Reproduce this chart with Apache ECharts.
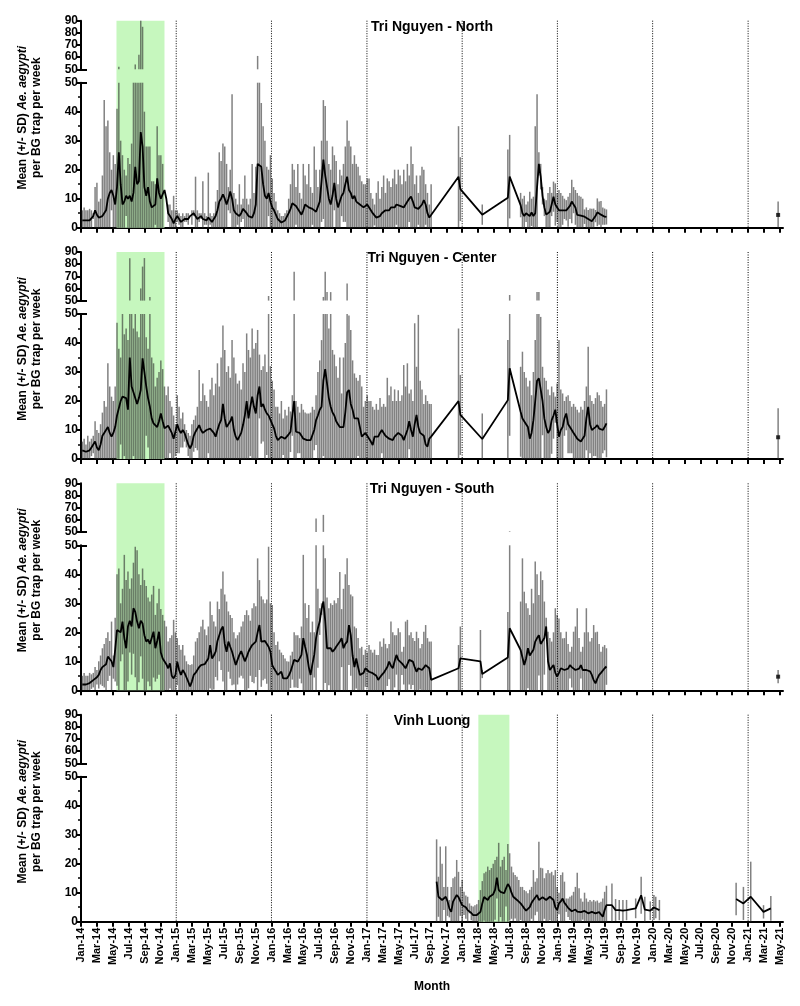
<!DOCTYPE html>
<html><head><meta charset="utf-8">
<script src="https://cdn.jsdelivr.net/npm/echarts@6/dist/echarts.min.js"></script>
<style>html,body{margin:0;padding:0;background:#fff}#c{width:800px;height:1006px}</style>
</head><body><div id="c"></div>
<script>
// ---------------- DATA ----------------
const TICK_LABELS = ['Jan-14','Mar-14','May-14','Jul-14','Sep-14','Nov-14','Jan-15','Mar-15','May-15','Jul-15','Sep-15','Nov-15','Jan-16','Mar-16','May-16','Jul-16','Sep-16','Nov-16','Jan-17','Mar-17','May-17','Jul-17','Sep-17','Nov-17','Jan-18','Mar-18','May-18','Jul-18','Sep-18','Nov-18','Jan-19','Mar-19','May-19','Jul-19','Sep-19','Nov-19','Jan-20','Mar-20','May-20','Jul-20','Sep-20','Nov-20','Jan-21','Mar-21','May-21'];
const YEAR_STARTS = ['2015-01-01','2016-01-01','2017-01-01','2018-01-01','2019-01-01','2020-01-01','2021-01-01'];
const FIRST_WEEK = '2014-01-06';
const GREEN_TRI = ['2014-05-17','2014-11-17'];
const GREEN_VINH = ['2018-03-04','2018-07-01'];
const TITLES = ['Tri Nguyen - North','Tri Nguyen - Center','Tri Nguyen - South','Vinh Luong'];

// runs: [first week index (weeks after FIRST_WEEK), number of consecutive weekly samples]
const northRuns = [[0,192],[206,2],[219,1],[233,2],[240,48],[381,1]];
const northMean = [
2.5,2.5,2.5,2.5,2.5,3,4,6,4.5,3.5, 3.5,4,4.5,6,10,12,13,11,8,14, 26,15,8,9,11,10,11,9,12,21,
15,16,33,28,14,11,14,9,7,6.5, 8,17,12,10,10,13,10,5,4,3, 1.5,3,4,3,2,2.5,3,3.5,3,4,
3.5,5,4.5,3,3.5,4,3,3,2.5,3.5, 3,2,2,4,6,9,10,11.5,10,8, 10,12.5,10,6,5,4.5,4,5,6.5,7,
5,4,3.5,3.5,5,8,22,22,21,15, 11,10,12,9,7,6,4.5,3,2.5,1.8, 1.7,2.5,3,5,6.5,8.4,8,7.5,7,5.5,
4.5,6,8,7.5,7,6.5,6.5,6,5.5,5.5, 9,16,23.5,18,14,10,8,11,15.5,10, 7,9,11,12,15,17.6,13,12,10,11,
9,8.5,8,7.5,7,7,8,7.8,6,5, 4.4,3.5,3,4,5,5,6,5.5,6,7, 7.5,7,8,8,7.5,7,7,8,9,10,
10.7,9,7,6.5,6.5,7,8,9.5,8,5,3.5,3,
17.6,13.3, 4.5, 10.3,17.6,
7.8,5,4,5,4.5,4,5.3,4,5,14, 22,17.6,11,7,4.5,4.2,5.5,8,10.7,8, 7,6,5.5,6,6.5,6,5.5,7.5,9,9.5,
7,4.4,4.5,4.2,4,3.8,3.3,3,2.5,2.2, 2,4,5.3,5,4.5,4,3.8,3.7,
4.4];
const northHi = [
6,7,6,6,6.5,6,5,14,15.5,9, 10,18,44,35,37,26,20,25,22,41, 52,30,25,20,18,24,22,29,50,54,
50,62,90,85,40,28,28,28,16,16, 15,35,25,25,22,13,10,8,8,6, 11,6,6,5,4,5,4,5,5,4,
6,6,17.6,6,5,5,16,5,4,19, 5,4,5,9,13,26,23,29,28,22, 14,20,46,12,10,8,15,8,10,18,
10,8,10,22,12,21,61,50,43,35, 30,21,20,25,17,12,9,6,5,4, 4,5,6,10,15,22,20,14,22,12,
10,22,18,15,22,14,12,28,20,14, 20,30,44,42,30,22,20,28,25,23, 15,20,18,22,28,37,30,28,22,25,
22,21,18,16,15,15,17,17,12,10, 8,12,16,10,14,18,12,17,16,14, 17,20,15,20,18,15,20,16,22,18,
28,22,15,18,12,18,21,20,15,12,8,15,
35,24.3, 8, 27,32,
12,10,11,8,9,12.4,10,10.7,35,46, 26,22,14,10,9.5,12,14,12,15.9,15.3, 12,13,12,11,10,9.5,10.7,12,16.5,14,
13,12,11,10.7,10,6.3,7,6.1,6.6,6.5, 6.6,6.1,10.1,9,9.2,7,6.6,6.3,
9];

const centerRuns = [[0,192],[206,2],[219,1],[233,2],[240,48],[381,1]];
const centerMean = [
3,3,2.5,2.5,3,4,5,6,4,3, 5,8,9,9,11,9,7.7,9,11,15, 17.5,20,21.5,22,21,17,35,25,23,22.6,
19,21,23.8,34.7,30,25,21,18,14,12.3, 12,11,13,15.7,13,10.6,11,11.5,11,9, 7,6.5,12,10,9,10,9,7,5,3.7,
5,8,9.4,10.5,11.7,10,9,9.5,10,10, 10.5,11,9,7.7,10,12,13.4,19,14,11, 12,13,14.6,10,7.7,6.5,6,9,11.7,15,
20,14,18,21.5,18,15.7,22,25,18,19, 17,15.7,15,14.6,12,10.6,8,6.5,7,7.7, 7.7,7,7.5,8.5,9.4,15,20,9.4,10,9,
8,7,7,6.5,6.5,6.5,6.5,10,13.4,15, 17,18,27,31,26,21,18,16,15,13, 12,11,11,11,16,23,23.8,19,17,14,
13.4,14,11,7.7,8,9,8,7.7,6,4.8, 7.7,7.7,7.7,9,10,9,8,7.7,7,6.5, 6.5,7.7,8,9,9.4,8,6.5,6.5,10,13,
10,7.7,12,15.2,11,9,8.5,8,5,4.3,7,7.7,
20,15.2, 6.9, 20.3,31.3,
16.3,14,13.4,12,11,7,9,13.4,20,27, 27.8,24,20,14,11,9,10,13.4,15,17, 12,7.7,10,11,14,15.7,12,11,10,9,
8,7,6.5,6,5.4,8,14,18,12,10, 10,11,11.7,10.5,10,10,11,12.3,
7.5];
const centerHi = [
6,7,5,8,6,7,8,13,10,9, 12,16,20,18,33,25,21.5,20,25,47, 38,35,50,43,45,41,84.8,50,45,50,
44,42,60,78,85,42,38,53,35,33, 25,28,30,34,31,25,22,25,20,18, 15,12,22,18,14,16,12,10,9,8,
12,13.5,15,18,30.7,20,26,22,20,18, 24,28,22,26,33,25,35,46,37.6,30, 32,28,41,35,29.5,26,27,24,33,30,
43.3,37.6,35,45,38,40,44.5,36,30.7,32, 36,30,53.8,32,27,24,18,18,15.7,20, 14,17,15,18,16.4,22,73.8,20,18,16,
19,17,16,15.7,15.7,16,18,17,22,30, 34,41,53,73.8,57,45,57,37.6,36,32, 28,35,22.6,35,40,64,49.5,44.5,34,29.5,
28,27,29,25,18,20,22,20,20,18, 17,19,17,21,18,19,18,28,22,25, 20,24,20,23.7,20,22,32.4,25,33,22.6,
24,20,46.8,31.8,49.7,27,24,19,22,20,19,19,
45,29, 15.7, 41,54.6,
31.8,37,30,28,25,27,22,30,41,57, 57,49,31.8,28,27,24,22,25,23,21.5, 26,41,24,22.6,20,21.5,22,20,18,19,
18,17,16,18,17,20,25,38.7,22,20, 19,21,23,22,20,18,19,24,
17.5];

const southRuns = [[0,192],[206,2],[218,2],[233,2],[240,48],[381,1]];
const southMean = [
2,2,2,2.5,2.5,3,3.5,4,4.5,5.3, 7,8,8.5,9,11.6,11,10,8,14,20.8, 20.5,20,23.7,18,14.5,22,24,22,28.3,27,
23.7,21.4,24,23,19,16.8,17.5,16,15.6,20.2, 14.5,17,20.2,13,11,11.6,9,7.6,9.3,5, 4.1,5.3,9.9,7,5.3,7,6,4.5,3,1.3,
3,5.3,6,7,8,8.7,8.7,9,8.7,11, 15.6,11,12,13.3,17,19,21,22,16,13.3, 16.8,15,13.3,11,8.7,10.5,12.2,13.5,13.9,10,
11.5,13.3,14.5,15.6,16.2,16.8,20,22.5,16.8,17.4, 17,16.8,15,13.3,8.7,7.5,6.5,5.3,5.8,6.4, 4.1,4,4.1,5,6.4,8.5,10.5,10,9.9,11,
12.2,18,15,12.2,8,5.3,9,12.2,18,21.4, 23.7,28,30.6,24,14.5,15,14.5,13.3,14,15, 15.6,16.8,18,14.5,16,16.8,22.5,19,12,8,
11,8,5.3,5.3,6,7.6,7,6.4,6,5.9, 6.2,5,3.6,4.5,5.3,6,6.4,8,9.9,8.5, 7.6,10,12.2,10.5,9.9,9.3,8.5,7.6,9,10.5,
10.2,9.9,8,6.4,7.6,7.4,7,7.8,8.7,8.2,7.6,3.6,
7.6,11, 10,5.6, 11.3,21.4,
13.9,13.3,8.7,11,14.5,12,12.2,14,16.8,18, 19,16,15.6,18,22,10,7,6.4,8.7,6, 4.7,6,7.6,7.6,7,6.4,7.5,8.7,8,7.6,
7,6.4,7.5,8.7,7,6.4,7,7.6,6.5,5.3, 3.5,2.4,4,5.3,6,6.4,7.6,8.2,
4.7];
const southHi = [
5,6,5,5,6,5.5,6,8,7,10, 12,14.5,16,18,20,17,23.7,12,25,40, 42,30,35,46.7,38,41,35,38.6,44,49.5,
48.3,40,36.3,42,38,36,32,30.6,33,36, 26,30,35,28,26,24,22,16.8,18,19, 24.3,20,18,15.6,14,15.6,12,10,9,8.7,
9,12,16.8,18,20,22,24.3,21,19,22, 30.6,26,23.7,22,30.6,28,35,41,33,30.6, 27.2,26,24.9,20,17.9,19,20,22,23.7,26,
27.6,25.9,24,28.3,30,29,45.5,38,32.4,31.3, 30,31.3,49.5,30,29.4,20,15.6,16.8,14,13, 12.2,11,10,9.9,12,13.3,20,19,19,18,
22,46.7,30,24.9,29.4,20,23.7,20,61,35, 28.3,30,64,45.5,32,28.3,30,29.4,31,30, 31.8,40.8,28,35,40,45.5,36.3,33,32.4,22,
21.4,18,14.5,15,12.2,14,13,15.6,14,13, 14,12.2,12.2,16.8,15,17.9,16,14.5,16,23.7, 20,19,19,21.4,20,13.3,15,23.7,24.3,19,
20,18,17,20.2,18,14.5,16,20.2,22.5,18,16.8,16.8,
15.6,22, 20.8,7, 27,50.5,
30.6,45.5,34,30,28.3,26,35,30,44.4,40, 32.9,41,38,30.6,25,20.2,18,16.8,20,28.3, 26,24.8,20,17.9,18,20.2,16,13.3,15,20.2,
22,28.3,18,13.3,15,20,28.3,20,16.8,18, 22.5,20,20.2,16,13.3,15,15.6,14.5,
7];

const vinhRuns = [[194,94],[290,1],[292,1],[294,1],[296,1],[298,1],[303,1],[306,1],[308,1],[311,1],[313,1],[314,1],[316,1],[358,1],[362,1],[366,1],[373,1],[377,1]];
const vinhMean = [
13.8,8.6,8,7.5,8,8.6,7,4.5,3.4,6.9, 7.5,9.2,8.5,7,5.7,6.3,5,4,4.6,3, 2.3,2,2.3,2.5,3.4,6.3,8.5,8,7.5,8.6,
9,9.5,11,15.2,11,10.3,10,9.8,11.5,13, 12,10,8.6,8.6,7.5,6.9,6.3,5.5,4.6,3.8, 3.4,5,6.5,7.5,8,9.2,7.5,6.9,8.4,8,
7.5,8,8.6,8,7.5,5,4,6.3,7,8, 6.5,5.7,4.8,4.6,3.6,3.4,4.2,3.5,2.9,3.3, 3.8,3.7,3.6,2.9,3.2,3.4,3.2,2.9,3.1,3.3,
2.5,1.7,4,5.7,
5.7,4,4,3.8,4,4.6,9.1,4.2,3.8,4.9,4.9,4,
7.8,6.3,8.6,3.4,4.6];
const vinhHi = [
28.4,15.5,25.9,20,12,26,12,7.5,12,15, 15.5,21.3,17.2,12,14.4,10.3,9,8.6,6.3,5.5, 5.2,5.7,6,7.5,10.9,14,16.7,17.2,19,17.8,
18.5,20,21.3,22.4,27.2,19,21.3,22.4,17.8,26.8, 23.6,19,17,16.1,15.5,14.4,12,12,10.9,10.5, 9.8,11,12,17.8,13.8,15,27.6,18.6,18.4,15,
16.7,17.8,16.7,17.2,16,17.8,12,10,16.1,17, 13.8,8,8,8.6,9,10.3,12,16.9,11.5,8, 6.9,10,8,6.9,7.5,7,7.5,7,7.3,6.5,
6.9,8,10.3,12.4,
13.2,7.8,7.5,7.5,7.5,8,15.5,8.6,7,9.2,8.6,7.5,
13.4,12,20.7,5.7,8.9];

// weeks before which the mean line is interrupted
const northBreaks = [381], centerBreaks = [381], southBreaks = [381], vinhBreaks = [358];

// ---------------- LAYOUT / STYLE ----------------
const FONT = '"Liberation Sans", Arial, Helvetica, sans-serif';
const ZERO_Y = [227.7, 459, 690.3, 921.7];
const LEFT = 81, WIDTH = 702, X_MAX = 88.4;
const LOWER_H = 145, UPPER_H = 48.6, FULL_H = 207, NAME_H = 220;
const GREEN = '#c6f7be';
const BAR_COLOR = 'rgba(45,45,45,0.6)';
const DAYS_PER_MONTH = 30.4375;

function dm(s) { const [y, m, d] = s.split('-').map(Number); return (Date.UTC(y, m - 1, d) - Date.UTC(2014, 0, 1)) / 86400000 / DAYS_PER_MONTH; }
const W0 = dm(FIRST_WEEK);
function wk(w) { return W0 + 7 * w / DAYS_PER_MONTH; }
const TICKS = TICK_LABELS.map((_, i) => i * 2);

const PANELS = [
  {runs: northRuns, mean: northMean, hi: northHi, breaks: northBreaks, green: GREEN_TRI},
  {runs: centerRuns, mean: centerMean, hi: centerHi, breaks: centerBreaks, green: GREEN_TRI},
  {runs: southRuns, mean: southMean, hi: southHi, breaks: southBreaks, green: GREEN_TRI},
  {runs: vinhRuns, mean: vinhMean, hi: vinhHi, breaks: vinhBreaks, green: GREEN_VINH}
];

function expand(P) {
  const pts = []; let k = 0;
  P.runs.forEach(([s, n]) => { for (let j = 0; j < n; j++) { pts.push({w: s + j, mean: P.mean[k], hi: P.hi[k]}); k++; } });
  return pts;
}

function barItem(params, api) {
  const a = api.coord([api.value(0), api.value(1)]);
  const b = api.coord([api.value(0), api.value(2)]);
  return {type: 'line', shape: {x1: a[0], y1: a[1], x2: b[0], y2: b[1]}, style: {stroke: BAR_COLOR, lineWidth: 1.5}};
}

const grids = [], xAxes = [], yAxes = [], series = [], graphics = [];
const axisLineStyle = {color: '#000', width: 2};
const yLabel = {color: '#000', fontSize: 12, fontWeight: 'bold', fontFamily: FONT, margin: 3};

PANELS.forEach((P, p) => {
  const Z = ZERO_Y[p];
  const g = p * 4, xb = p * 4, yb = p * 6;
  grids.push({left: LEFT, width: WIDTH, top: Z - LOWER_H, height: LOWER_H});
  grids.push({left: LEFT, width: WIDTH, top: Z - FULL_H, height: UPPER_H});
  grids.push({left: LEFT, width: WIDTH, top: Z - FULL_H, height: FULL_H});
  grids.push({left: LEFT, width: WIDTH, top: Z - NAME_H, height: NAME_H});

  const xBase = {type: 'value', min: 0, max: X_MAX, splitLine: {show: false}};
  xAxes.push(Object.assign({}, xBase, {
    gridIndex: g, position: 'bottom',
    axisLine: {show: true, onZero: false, lineStyle: axisLineStyle},
    axisTick: {show: true, length: 5, lineStyle: {color: '#000', width: 2}, customValues: TICKS},
    axisLabel: {show: p === 3, customValues: TICKS, rotate: 90, color: '#000', fontSize: 11, fontWeight: 'bold', fontFamily: FONT, margin: 6,
      formatter: v => TICK_LABELS[Math.round(v / 2)] || ''},
    name: p === 3 ? 'Month' : '', nameLocation: 'middle', nameGap: 59,
    nameTextStyle: {color: '#000', fontSize: 12, fontWeight: 'bold', fontFamily: FONT}
  }));
  xAxes.push(Object.assign({}, xBase, {gridIndex: g + 1, show: false}));
  xAxes.push(Object.assign({}, xBase, {gridIndex: g + 2, show: false}));
  xAxes.push(Object.assign({}, xBase, {gridIndex: g + 3, show: false}));

  yAxes.push({type: 'value', gridIndex: g, position: 'left', min: 0, max: 50, interval: 10,
    axisLine: {show: true, onZero: false, lineStyle: axisLineStyle},
    axisTick: {show: true, length: 5, lineStyle: {color: '#000', width: 2}},
    minorTick: {show: true, splitNumber: 2, length: 3, lineStyle: {color: '#000', width: 1.5}},
    axisLabel: yLabel, splitLine: {show: false}});
  yAxes.push({type: 'value', gridIndex: g, position: 'left', min: 0, max: 50,
    axisLine: {show: false}, axisTick: {show: true, inside: true, length: 6, customValues: [50], lineStyle: {color: '#000', width: 2}},
    axisLabel: {show: false}, splitLine: {show: false}});
  yAxes.push({type: 'value', gridIndex: g + 1, position: 'left', min: 50, max: 90, interval: 10,
    axisLine: {show: true, onZero: false, lineStyle: axisLineStyle},
    axisTick: {show: true, length: 5, lineStyle: {color: '#000', width: 2}},
    axisLabel: yLabel, splitLine: {show: false}});
  yAxes.push({type: 'value', gridIndex: g + 1, position: 'left', min: 50, max: 90,
    axisLine: {show: false}, axisTick: {show: true, inside: true, length: 6, customValues: [50], lineStyle: {color: '#000', width: 2}},
    axisLabel: {show: false}, splitLine: {show: false}});
  yAxes.push({type: 'value', gridIndex: g + 2, min: 0, max: 1, show: false, splitLine: {show: false}});
  yAxes.push({type: 'value', gridIndex: g + 3, position: 'left', min: 0, max: 1,
    axisLine: {show: false}, axisTick: {show: false}, axisLabel: {show: false}, splitLine: {show: false},
    name: 'Mean (+/- SD) {i|Ae. aegypti}\nper BG trap per week', nameLocation: 'middle', nameGap: 37,
    nameTextStyle: {color: '#000', fontSize: 12, fontWeight: 'bold', fontFamily: FONT, lineHeight: 14,
      rich: {i: {color: '#000', fontSize: 12, fontWeight: 'bold', fontStyle: 'italic', fontFamily: FONT, lineHeight: 14}}}});

  // green season band
  series.push({type: 'custom', xAxisIndex: xb + 2, yAxisIndex: yb + 4, silent: true, z: 1,
    data: [[dm(P.green[0]), dm(P.green[1])]],
    renderItem: (params, api) => {
      const a = api.coord([api.value(0), 1]), b = api.coord([api.value(1), 0]);
      return {type: 'rect', shape: {x: a[0], y: a[1], width: b[0] - a[0], height: b[1] - a[1]}, style: {fill: GREEN}};
    }});
  // year separators
  series.push({type: 'custom', xAxisIndex: xb + 2, yAxisIndex: yb + 4, silent: true, z: 4,
    data: YEAR_STARTS.map(d => [dm(d), 0]),
    renderItem: (params, api) => {
      const a = api.coord([api.value(0), 1]), b = api.coord([api.value(0), 0]);
      return {type: 'line', shape: {x1: a[0], y1: a[1], x2: b[0], y2: b[1]}, style: {stroke: '#000', lineWidth: 1, lineDash: [1, 1.5]}};
    }});

  const pts = expand(P);
  const lower = pts.map(q => [wk(q.w), Math.max(0, 2 * q.mean - q.hi), Math.min(q.hi, 50)]);
  const upper = pts.filter(q => q.hi > 50).map(q => [wk(q.w), 50, Math.min(q.hi, 90)]);
  series.push({type: 'custom', xAxisIndex: xb, yAxisIndex: yb, silent: true, z: 2, data: lower, renderItem: barItem});
  series.push({type: 'custom', xAxisIndex: xb + 1, yAxisIndex: yb + 2, silent: true, z: 2, data: upper, renderItem: barItem});

  // mean line with breaks
  const lineData = [], segs = [[]];
  pts.forEach(q => {
    if (P.breaks.indexOf(q.w) >= 0) { lineData.push([wk(q.w) - 0.05, '-']); segs.push([]); }
    lineData.push([wk(q.w), q.mean]); segs[segs.length - 1].push([wk(q.w), q.mean]);
  });
  series.push({type: 'line', xAxisIndex: xb, yAxisIndex: yb, data: lineData, showSymbol: false, symbol: 'none', connectNulls: false,
    lineStyle: {color: '#000', width: 1.8}, z: 5, silent: true});
  const singles = segs.filter(s => s.length === 1).map(s => s[0]);
  series.push({type: 'scatter', xAxisIndex: xb, yAxisIndex: yb, data: singles, symbol: 'rect', symbolSize: 4,
    itemStyle: {color: '#000'}, z: 6, silent: true});

  graphics.push({type: 'text', x: 432, y: Z - 201, z: 20,
    style: {text: TITLES[p], font: 'bold 14px ' + FONT, fill: '#000', textAlign: 'center', textVerticalAlign: 'middle', align: 'center', verticalAlign: 'middle'}});
});

const chart = echarts.init(document.getElementById('c'), null, {renderer: 'canvas'});
chart.setOption({
  animation: false,
  backgroundColor: '#fff',
  grid: grids, xAxis: xAxes, yAxis: yAxes, series: series, graphic: graphics
});
</script></body></html>
